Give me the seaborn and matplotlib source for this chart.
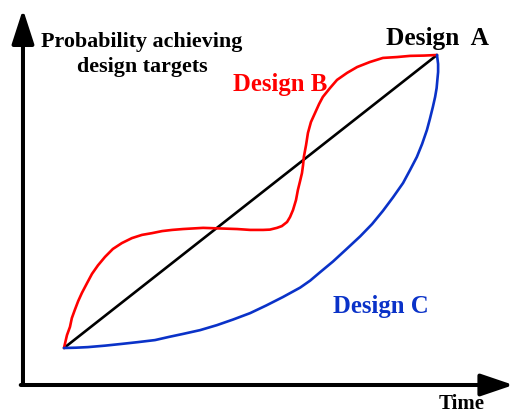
import numpy as np
import pandas as pd
import matplotlib
matplotlib.use("Agg")
import matplotlib.pyplot as plt
import seaborn as sns

# normalised time / probability (start = 0, end = 1)
time_a = [0.0, 1.0]
prob_a = [0.0, 1.0]

time_b = [0.0, 0.003, 0.008, 0.016, 0.021, 0.029, 0.038, 0.048, 0.062, 0.075,
          0.091, 0.110, 0.131, 0.155, 0.182, 0.209, 0.236, 0.263, 0.290, 0.319,
          0.346, 0.373, 0.418, 0.464, 0.499, 0.534, 0.552, 0.571, 0.584, 0.598,
          0.606, 0.614, 0.622, 0.627, 0.633, 0.638, 0.641, 0.643, 0.649, 0.654,
          0.662, 0.673, 0.684, 0.694, 0.713, 0.732, 0.759, 0.786, 0.820, 0.855,
          0.893, 0.928, 0.965, 1.0]
prob_b = [0.0, 0.017, 0.044, 0.072, 0.102, 0.130, 0.160, 0.188, 0.222, 0.253,
          0.282, 0.311, 0.338, 0.358, 0.375, 0.386, 0.392, 0.399, 0.403, 0.406,
          0.408, 0.410, 0.408, 0.406, 0.403, 0.403, 0.404, 0.410, 0.416, 0.430,
          0.447, 0.471, 0.505, 0.539, 0.570, 0.597, 0.625, 0.652, 0.693, 0.734,
          0.771, 0.802, 0.833, 0.857, 0.887, 0.915, 0.939, 0.959, 0.976, 0.990,
          0.993, 0.997, 0.998, 1.0]

time_c = [0.0, 0.032, 0.064, 0.110, 0.155, 0.198, 0.244, 0.282, 0.319, 0.365,
          0.410, 0.453, 0.499, 0.542, 0.587, 0.633, 0.660, 0.686, 0.721, 0.756,
          0.794, 0.826, 0.855, 0.882, 0.909, 0.928, 0.946, 0.960, 0.973, 0.981,
          0.989, 0.995, 0.999, 1.001, 1.003, 1.003, 1.0]
prob_c = [0.0, 0.001, 0.003, 0.008, 0.014, 0.020, 0.027, 0.038, 0.048, 0.061,
          0.078, 0.097, 0.119, 0.145, 0.174, 0.206, 0.230, 0.258, 0.295, 0.336,
          0.381, 0.423, 0.468, 0.514, 0.563, 0.608, 0.652, 0.696, 0.744, 0.782,
          0.823, 0.857, 0.887, 0.915, 0.942, 0.969, 1.0]

RED = "#ff0000"
BLUE = "#0a32c8"
SERIF = ["Liberation Serif", "DejaVu Serif"]

sns.set_style("white")
plt.rcParams["font.family"] = SERIF

fig = plt.figure(figsize=(5.12, 4.15), dpi=100)
ax = fig.add_axes([0, 0, 1, 1])
ax.set_xlim(-0.1716, 1.2011)
ax.set_ylim(-0.2287, 1.1877)
ax.axis("off")

# axes drawn as arrows
ax.annotate("", xy=(-0.110, 1.156), xytext=(-0.110, -0.1263),
            annotation_clip=False,
            arrowprops=dict(arrowstyle="-|>,head_length=1.05,head_width=0.34",
                            mutation_scale=20, lw=2.9, color="black",
                            shrinkA=0, shrinkB=0))
ax.annotate("", xy=(1.205, -0.1263), xytext=(-0.116, -0.1263),
            annotation_clip=False,
            arrowprops=dict(arrowstyle="-|>,head_length=1.0,head_width=0.34",
                            mutation_scale=20, lw=2.9, color="black",
                            shrinkA=0, shrinkB=0))

line_kw = dict(lw=1.9, sort=False, estimator=None,
               solid_joinstyle="round", solid_capstyle="round")
sns.lineplot(x=time_a, y=prob_a, ax=ax, color="black", **line_kw)
sns.lineplot(x=time_b, y=prob_b, ax=ax, color=RED, **line_kw)
sns.lineplot(x=time_c, y=prob_c, ax=ax, color=BLUE, **line_kw)

ax.text(0.209, 1.027, "Probability achieving", ha="center", va="baseline",
        fontsize=15.8, fontweight="bold", color="black")
ax.text(0.209, 0.942, "design targets", ha="center", va="baseline",
        fontsize=15.8, fontweight="bold", color="black")
ax.text(1.0, 1.034, "Design  A", ha="center", va="baseline",
        fontsize=18.3, fontweight="bold", color="black")
ax.text(0.579, 0.877, "Design B", ha="center", va="baseline",
        fontsize=17.8, fontweight="bold", color=RED)
ax.text(0.850, 0.119, "Design C", ha="center", va="baseline",
        fontsize=17.8, fontweight="bold", color=BLUE)
ax.text(1.066, -0.208, "Time", ha="center", va="baseline",
        fontsize=15, fontweight="bold", color="black")

fig.savefig("out.png", dpi=100)
